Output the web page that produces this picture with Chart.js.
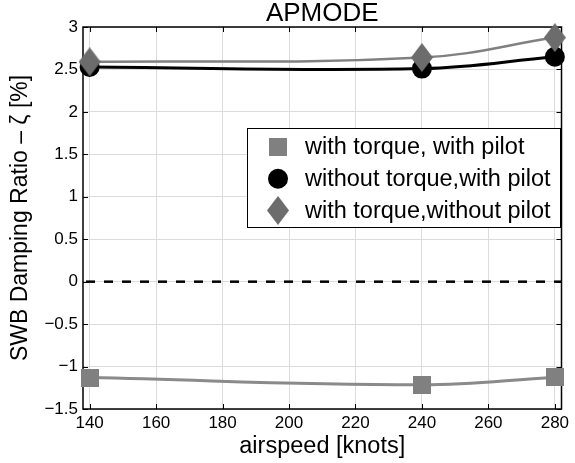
<!DOCTYPE html>
<html>
<head>
<meta charset="utf-8">
<script src="https://cdn.jsdelivr.net/npm/chart.js@4.4.1/dist/chart.umd.min.js"></script>
<style>
  html, body { margin: 0; padding: 0; background: #fff; }
</style>
</head>
<body>
<canvas id="apmode-chart" width="575" height="463"></canvas>
<script>
// airspeed in knots, damping ratio in %
const airspeed = [140, 240, 280]
const withTorqueWithPilot = [-1.13, -1.215, -1.125]
const withoutTorqueWithPilot = [2.53, 2.51, 2.65]
const withTorqueWithoutPilot = [2.59, 2.64, 2.875]
const xTicks = [140, 160, 180, 200, 220, 240, 260, 280]
const yTicks = [-1.5, -1, -0.5, 0, 0.5, 1, 1.5, 2, 2.5, 3]
const zeroLevel = 0

const FONT = '"Liberation Sans", Arial, Helvetica, sans-serif'

function markerCanvas(w, h, color, shape) {
    const c = document.createElement('canvas')
    c.width = w
    c.height = h
    const g = c.getContext('2d')
    g.fillStyle = color
    if (shape === 'diamond') {
        g.beginPath()
        g.moveTo(w / 2, 0)
        g.lineTo(w, h / 2)
        g.lineTo(w / 2, h)
        g.lineTo(0, h / 2)
        g.closePath()
        g.fill()
    } else {
        g.fillRect(0, 0, w, h)
    }
    return c
}

const squareMark = markerCanvas(18, 18, '#808080', 'square')
const diamondMark = markerCanvas(22, 29, '#6c6c6c', 'diamond')

const toPoints = (ys) => airspeed.map((x, i) => ({x: x, y: ys[i]}))

const matlabFrame = {
    id: 'matlabFrame',
    beforeDatasetsDraw(chart) {
        const {ctx, chartArea, scales} = chart
        const {left, right, top, bottom} = chartArea
        ctx.save()
        // zero reference line
        const y0 = scales.y.getPixelForValue(zeroLevel)
        ctx.strokeStyle = '#000'
        ctx.lineWidth = 2.5
        ctx.setLineDash([9, 9])
        ctx.beginPath()
        ctx.moveTo(left + 3, y0)
        ctx.lineTo(right, y0)
        ctx.stroke()
        ctx.setLineDash([])

        // box + inward ticks
        ctx.lineWidth = 1
        const tl = 5
        ctx.beginPath()
        xTicks.forEach(v => {
            const px = Math.round(scales.x.getPixelForValue(v)) + 0.5
            ctx.moveTo(px, bottom); ctx.lineTo(px, bottom - tl)
            ctx.moveTo(px, top); ctx.lineTo(px, top + tl)
        })
        yTicks.forEach(v => {
            const py = Math.round(scales.y.getPixelForValue(v)) + 0.5
            ctx.moveTo(left, py); ctx.lineTo(left + tl, py)
            ctx.moveTo(right, py); ctx.lineTo(right - tl, py)
        })
        ctx.stroke()
        ctx.lineWidth = 1.5
        ctx.strokeRect(left, top, right - left, bottom - top)
        ctx.restore()
    },
    afterDatasetsDraw(chart) {
        const {ctx, chartArea} = chart
        const {left, right, top, bottom} = chartArea
        ctx.save()
        // titles
        ctx.fillStyle = '#000'
        ctx.textAlign = 'center'
        ctx.textBaseline = 'middle'
        ctx.font = '26px ' + FONT
        ctx.fillText('APMODE', (left + right) / 2, 14)
        ctx.font = '23.5px ' + FONT
        ctx.fillText('airspeed [knots]', (left + right) / 2, 447)
        ctx.save()
        ctx.translate(21, (top + bottom) / 2)
        ctx.rotate(-Math.PI / 2)
        ctx.font = '23px ' + FONT
        ctx.fillText('SWB Damping Ratio \u2013 \u03b6 [%]', 0, 0)
        ctx.restore()

        // legend
        const box = {x: 247, y: 128, w: 313, h: 99}
        ctx.fillStyle = '#fff'
        ctx.fillRect(box.x, box.y, box.w, box.h)
        ctx.lineWidth = 1
        ctx.strokeStyle = '#000'
        ctx.strokeRect(box.x + 0.5, box.y + 0.5, box.w, box.h)
        ctx.font = '23.5px ' + FONT
        ctx.textAlign = 'left'
        chart.data.datasets.forEach((ds, i) => {
            const cy = box.y + 19 + i * 31.7
            if (ds.pointStyle === 'circle') {
                ctx.fillStyle = ds.pointBackgroundColor
                ctx.beginPath()
                ctx.arc(278, cy, ds.pointRadius, 0, Math.PI * 2)
                ctx.fill()
            } else {
                Chart.helpers.drawPoint(ctx, {
                    pointStyle: ds.pointStyle,
                    radius: ds.pointRadius,
                    rotation: 0,
                    borderWidth: 0
                }, 278, cy)
            }
            ctx.fillStyle = '#000'
            ctx.fillText(ds.label, 305, cy + 1)
        })
        ctx.restore()
    }
}

new Chart(document.getElementById('apmode-chart'), {
    type: 'line',
    data: {
        datasets: [
            {
                label: 'with torque, with pilot',
                data: toPoints(withTorqueWithPilot),
                borderColor: '#8a8a8a',
                borderWidth: 3,
                pointStyle: squareMark,
                pointRadius: 9,
                pointBackgroundColor: '#808080',
                tension: 0.4,
                clip: false,
                order: 2
            },
            {
                label: 'without torque,with pilot',
                data: toPoints(withoutTorqueWithPilot),
                borderColor: '#000',
                borderWidth: 3,
                pointStyle: 'circle',
                pointRadius: 10,
                pointBackgroundColor: '#000',
                pointBorderWidth: 0,
                tension: 0.4,
                clip: false,
                order: 1
            },
            {
                label: 'with torque,without pilot',
                data: toPoints(withTorqueWithoutPilot),
                borderColor: '#808080',
                borderWidth: 2.5,
                pointStyle: diamondMark,
                pointRadius: 11,
                pointBackgroundColor: '#6c6c6c',
                tension: 0.4,
                clip: false,
                order: 0
            }
        ]
    },
    options: {
        responsive: false,
        animation: false,
        devicePixelRatio: 1,
        layout: {padding: {top: 27, right: 8, left: 0, bottom: 0}},
        plugins: {
            legend: {display: false},
            tooltip: {enabled: false}
        },
        scales: {
            x: {
                type: 'linear',
                min: 138,
                max: 282,
                afterBuildTicks: (s) => { s.ticks = xTicks.map(v => ({value: v})) },
                afterFit: (s) => { s.height = 54; s.paddingLeft = 0; s.paddingRight = 0 },
                grid: {color: '#dcdcdc', lineWidth: 1, drawTicks: false},
                border: {display: false},
                ticks: {
                    padding: 4,
                    maxRotation: 0,
                    autoSkip: false,
                    color: '#000',
                    font: {family: FONT, size: 17}
                }
            },
            y: {
                min: -1.5,
                max: 3,
                afterBuildTicks: (s) => { s.ticks = yTicks.map(v => ({value: v})) },
                afterFit: (s) => { s.width = 83 },
                grid: {color: '#dcdcdc', lineWidth: 1, drawTicks: false},
                border: {display: false},
                ticks: {
                    padding: 5,
                    color: '#000',
                    font: {family: FONT, size: 17},
                    callback: (v) => v < 0 ? '\u2212' + Math.abs(v) : String(v)
                }
            }
        }
    },
    plugins: [matlabFrame]
})
</script>
</body>
</html>
